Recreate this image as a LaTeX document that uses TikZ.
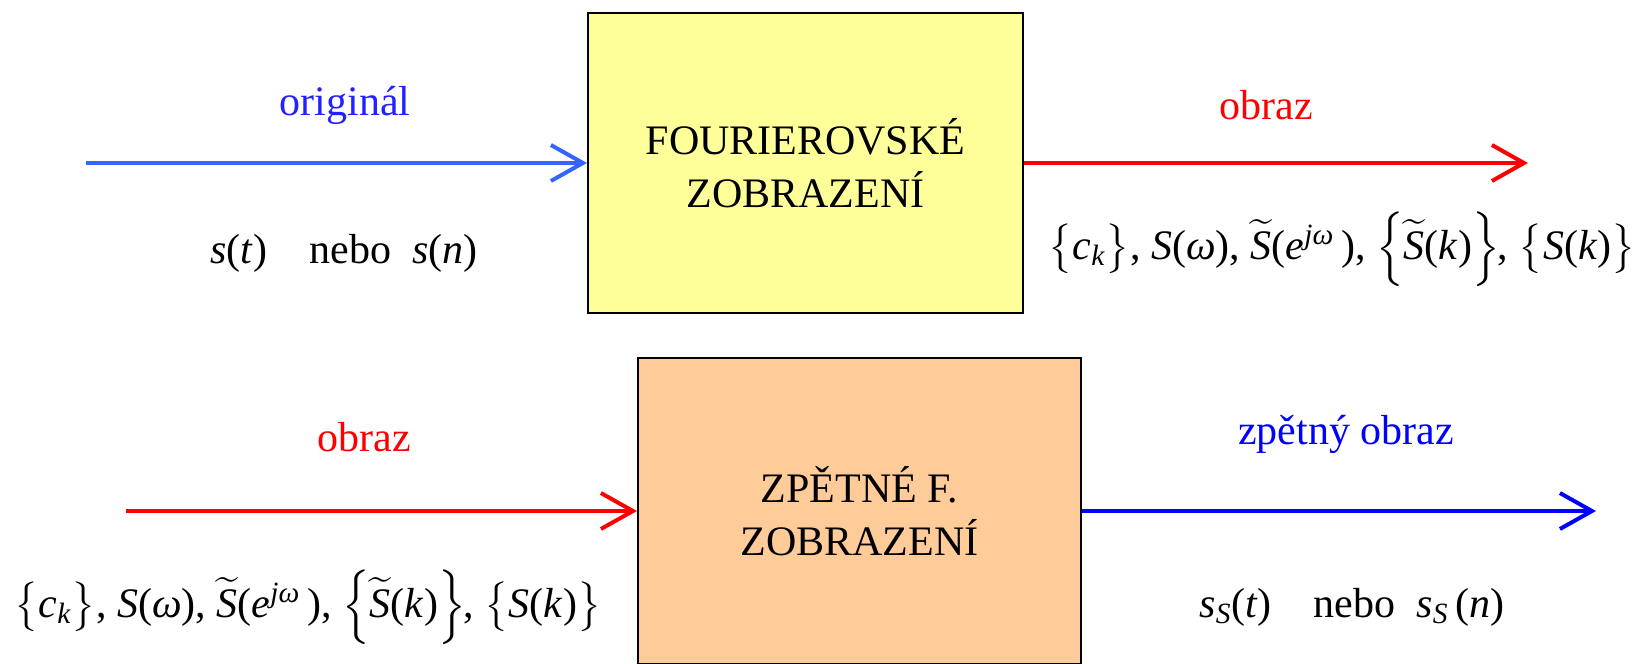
\documentclass[tikz,border=0pt]{standalone}
\usepackage{amsmath}
\usepackage{fontspec}
\setmainfont{Liberation Serif}
\usetikzlibrary{arrows.meta}
\definecolor{lblue}{HTML}{3366FF}
\definecolor{tblue}{HTML}{2222FF}
\definecolor{byel}{HTML}{FFFF99}
\definecolor{bor}{HTML}{FFCC99}
\tikzset{
  blk/.style={draw=black, line width=1pt, align=center, inner sep=0pt,
    font=\fontsize{21}{26.5}\selectfont},
  lbl/.style={font=\fontsize{21}{25}\selectfont, inner sep=0pt},
  conn/.style={line width=2pt, -{Straight Barb[length=16pt,width=18pt,line width=2pt]}}
}
\newcommand{\tS}{$\widetilde{\text{\itshape S}}$}
\newcommand{\specset}{$\bigl\{$\textit{c}\textsubscript{\textit{k}}$\bigr\}$, \textit{S}(\textit{ω}), \tS(\textit{e}\textsuperscript{\textit{jω}}\,), $\Bigl\{$\tS(\textit{k})$\Bigr\}$\kern-1pt, $\bigl\{$\textit{S}(\textit{k})$\bigr\}$}
\begin{document}
\begin{tikzpicture}[x=0.5pt,y=-0.5pt]
\useasboundingbox (0,0) rectangle (1641,663);
\clip (0,0) rectangle (1641,663);
% boxes
\node[blk, fill=byel, minimum width=217.5pt, minimum height=150pt] (b1) at (805.5,163) {FOURIEROVSKÉ\\ZOBRAZENÍ};
\node[blk, fill=bor, minimum width=221.5pt, minimum height=153pt] (b2) at (859.5,511) {ZPĚTNÉ F.\\ZOBRAZENÍ};
% free ends
\coordinate (s1) at (86,163);
\coordinate (e1) at (1528,163);
\coordinate (s2) at (126,511);
\coordinate (e2) at (1596,511);
% connectors
\draw[conn, lblue] (s1) -- (b1.west);
\draw[conn, red] (b1.east) -- (e1);
\draw[conn, red] (s2) -- (b2.west);
\draw[conn, blue] (b2.east) -- (e2);
% labels
\node[lbl, text=tblue] (l1) at (345,105) {originál};
\node[lbl, text=red] (l2) at (1266,105) {obraz};
\node[lbl, text=red] (l3) at (364,437) {obraz};
\node[lbl, text=blue] (l4) at (1346,434) {zpětný obraz};
\node[lbl] (m1) at (344,253) {\textit{s}(\textit{t})\quad nebo\enspace \textit{s}(\textit{n})};
\node[lbl] (m2) at (1342,249) {\specset};
\node[lbl] (m3) at (308,607) {\specset};
\node[lbl] (m4) at (1352,607) {\textit{s}\textsubscript{\textit{S}}(\textit{t})\quad nebo\enspace \textit{s}\textsubscript{\textit{S}}\,(\textit{n})};
\end{tikzpicture}
\end{document}
